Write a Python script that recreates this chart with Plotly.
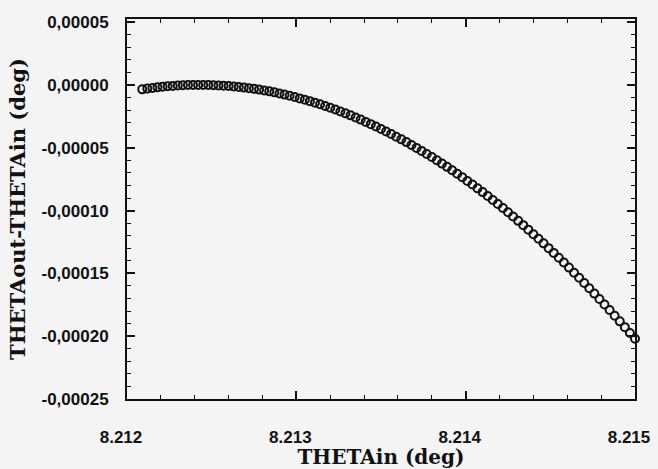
import plotly.graph_objects as go

# THETAin (deg)
theta_in = [
    8.21209, 8.21212, 8.21215, 8.21218, 8.21221, 8.21224, 8.21227, 8.21230, 8.21233, 8.21236,
    8.21239, 8.21242, 8.21245, 8.21248, 8.21251, 8.21254, 8.21257, 8.21260, 8.21263, 8.21266,
    8.21269, 8.21272, 8.21275, 8.21278, 8.21281, 8.21284, 8.21287, 8.21290, 8.21293, 8.21296,
    8.21299, 8.21302, 8.21305, 8.21308, 8.21311, 8.21314, 8.21317, 8.21320, 8.21323, 8.21326,
    8.21329, 8.21332, 8.21335, 8.21338, 8.21341, 8.21344, 8.21347, 8.21350, 8.21353, 8.21356,
    8.21359, 8.21362, 8.21365, 8.21368, 8.21371, 8.21374, 8.21377, 8.21380, 8.21383, 8.21386,
    8.21389, 8.21392, 8.21395, 8.21398, 8.21401, 8.21404, 8.21407, 8.21410, 8.21413, 8.21416,
    8.21419, 8.21422, 8.21425, 8.21428, 8.21431, 8.21434, 8.21437, 8.21440, 8.21443, 8.21446,
    8.21449, 8.21452, 8.21455, 8.21458, 8.21461, 8.21464, 8.21467, 8.21470, 8.21473, 8.21476,
    8.21479, 8.21482, 8.21485, 8.21488, 8.21491, 8.21494, 8.21497, 8.21500,
]

# THETAout - THETAin (deg)
delta_theta = [
    -3.5e-6, -2.9e-6, -2.4e-6, -1.9e-6, -1.5e-6, -1.1e-6, -0.8e-6, -0.5e-6, -0.3e-6, -0.1e-6,
    0.0, 0.0, 0.0, -0.1e-6, -0.2e-6, -0.4e-6, -0.6e-6, -0.9e-6, -1.2e-6, -1.6e-6,
    -2.1e-6, -2.6e-6, -3.1e-6, -3.7e-6, -4.4e-6, -5.1e-6, -5.9e-6, -6.8e-6, -7.7e-6, -8.6e-6,
    -9.6e-6, -10.7e-6, -11.8e-6, -12.9e-6, -14.1e-6, -15.4e-6, -16.8e-6, -18.1e-6, -19.6e-6, -21.1e-6,
    -22.6e-6, -24.2e-6, -25.9e-6, -27.6e-6, -29.4e-6, -31.2e-6, -33.1e-6, -35.0e-6, -37.0e-6, -39.1e-6,
    -41.2e-6, -43.3e-6, -45.5e-6, -47.8e-6, -50.1e-6, -52.5e-6, -54.9e-6, -57.4e-6, -60.0e-6, -62.6e-6,
    -65.2e-6, -67.9e-6, -70.7e-6, -73.5e-6, -76.4e-6, -79.3e-6, -82.3e-6, -85.3e-6, -88.4e-6, -91.6e-6,
    -94.8e-6, -98.0e-6, -101.4e-6, -104.7e-6, -108.2e-6, -111.6e-6, -115.2e-6, -118.8e-6, -122.4e-6, -126.1e-6,
    -129.9e-6, -133.7e-6, -137.5e-6, -141.4e-6, -145.4e-6, -149.5e-6, -153.5e-6, -157.7e-6, -161.9e-6, -166.1e-6,
    -170.4e-6, -174.8e-6, -179.2e-6, -183.7e-6, -188.2e-6, -192.8e-6, -197.4e-6, -202.1e-6,
]

x_tick_vals = [8.212, 8.213, 8.214, 8.215]
x_tick_text = ["8.212", "8.213", "8.214", "8.215"]
y_tick_vals = [0.00005, 0.0, -0.00005, -0.00010, -0.00015, -0.00020, -0.00025]
y_tick_text = ["0,00005", "0,00000", "-0,00005", "-0,00010", "-0,00015", "-0,00020", "-0,00025"]

bg = "#f4f4f4"
ink = "#111111"

fig = go.Figure()
fig.add_trace(go.Scatter(
    x=theta_in, y=delta_theta, mode="markers",
    marker=dict(symbol="circle-open", size=8, color=ink, line=dict(width=2, color=ink)),
    cliponaxis=False, showlegend=False,
))

tick_font = dict(family="Liberation Sans, Arial, sans-serif", size=17, color=ink, weight="bold")
xtitle_font = dict(family="DejaVu Serif, Liberation Serif, serif", size=20, color=ink, weight="bold")
ytitle_font = dict(family="DejaVu Serif, Liberation Serif, serif", size=21, color=ink, weight="bold")

fig.update_layout(
    width=658, height=469,
    margin=dict(l=127, r=23, t=19, b=70),
    paper_bgcolor=bg, plot_bgcolor=bg,
    xaxis=dict(
        range=[8.212, 8.215], tickvals=x_tick_vals, ticktext=x_tick_text,
        ticks="inside", ticklen=8, tickwidth=1.5, tickcolor=ink,
        minor=dict(dtick=0.0002, tick0=8.212, ticks="inside", ticklen=4, tickwidth=1.2, tickcolor=ink),
        showline=True, linecolor=ink, linewidth=2, mirror="ticks",
        showgrid=False, zeroline=False, automargin=False,
        tickfont=tick_font, ticklabelstandoff=22, ticklabelshift=-6,
        title=dict(text="THETAin (deg)", font=xtitle_font, standoff=2),
    ),
    yaxis=dict(
        range=[-0.00025, 0.0000525], tickvals=y_tick_vals, ticktext=y_tick_text,
        ticks="inside", ticklen=8, tickwidth=1.5, tickcolor=ink,
        minor=dict(dtick=0.00001, tick0=0, ticks="inside", ticklen=4, tickwidth=1.2, tickcolor=ink),
        showline=True, linecolor=ink, linewidth=2, mirror="ticks",
        showgrid=False, zeroline=False, automargin=False,
        tickfont=tick_font, ticklabelstandoff=13,
        title=dict(text="THETAout-THETAin (deg)", font=ytitle_font, standoff=10),
    ),
)

fig.write_html(
    "out.html",
    config={"displayModeBar": False},
    post_script="document.body.style.margin='0';document.body.style.background='%s';" % bg,
)
